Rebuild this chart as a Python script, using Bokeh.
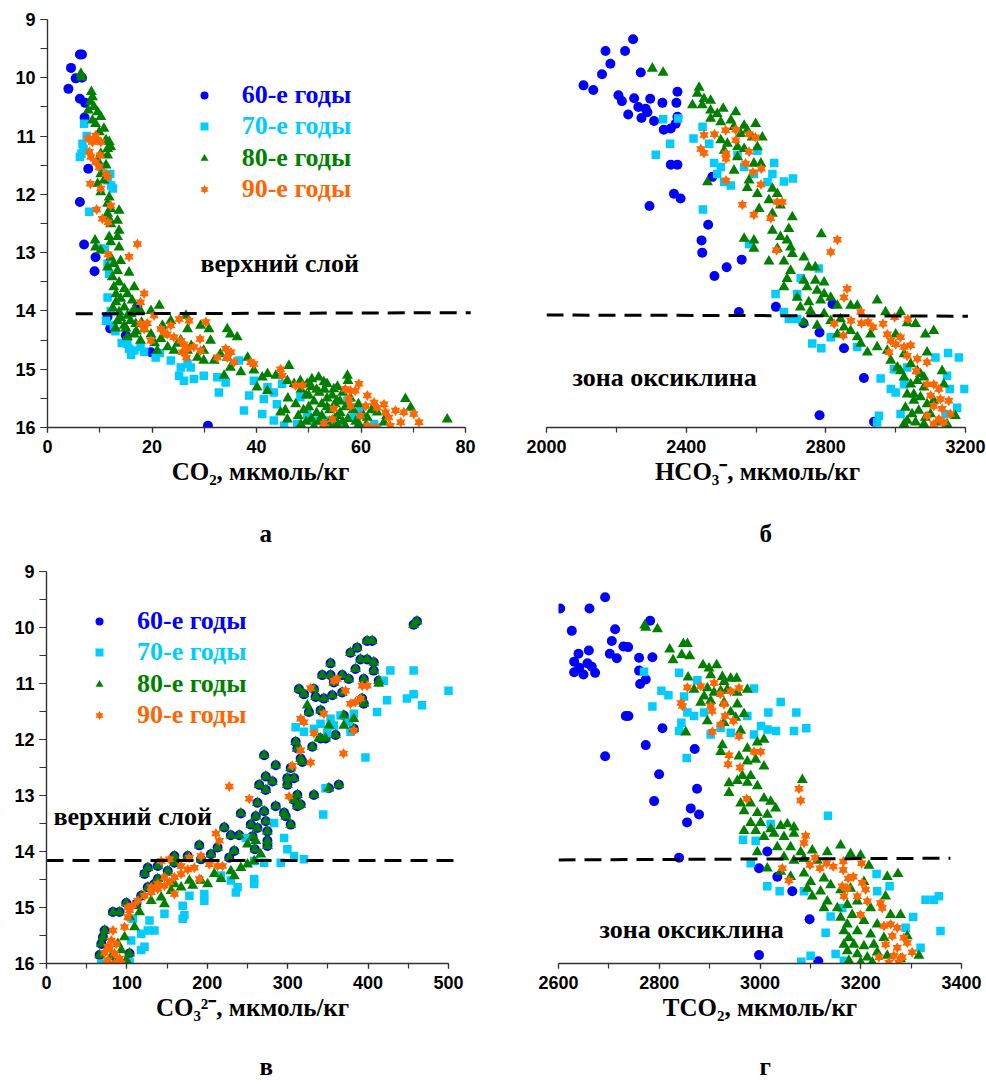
from bokeh.plotting import figure
from bokeh.models import Range1d, SingleIntervalTicker, Label, Legend, LegendItem, Title
from bokeh.layouts import row, column
from bokeh.embed import file_html
from bokeh.resources import INLINE

# ---------------- data ----------------
SERIES = ["60-е годы", "70-е годы", "80-е годы", "90-е годы"]
COLORS = ["#0000FF", "#00CCFF", "#008000", "#FF6600"]
X_TITLES = ["CO₂, мкмоль/кг", "HCO₃⁻, мкмоль/кг", "CO₃²⁻, мкмоль/кг", "TCO₂, мкмоль/кг"]
PANEL_LETTERS = ["а", "б", "в", "г"]
ZONE_TEXTS = ["верхний слой", "зона оксиклина"]

# panel а: CO2
co2_60s = [(6.2, 9.60), (6.6, 9.60), (4.5, 9.83), (5.4, 10.01), (6.6, 10.00), (4.0, 10.19), (6.2, 10.36),
           (7.2, 10.43), (7.1, 10.68), (7.8, 11.56), (6.2, 12.13), (7.0, 12.86), (9.2, 13.08), (9.0, 13.32),
           (17.2, 13.93), (11.5, 14.10), (12.0, 14.30), (15.0, 14.42), (15.0, 14.55), (19.8, 14.71), (30.7, 15.97)]
co2_70s = [(7.0, 10.79), (6.7, 11.13), (6.9, 11.22), (6.2, 11.36), (6.5, 11.30), (7.5, 11.00), (10.2, 11.53),
           (11.5, 11.76), (12.2, 11.85), (12.0, 11.65), (12.5, 11.90), (8.0, 12.30), (10.2, 12.93), (11.0, 12.95),
           (11.5, 13.19), (11.8, 13.36), (11.5, 13.77), (12.1, 14.00), (11.2, 14.17), (12.7, 14.25), (15.3, 14.51),
           (15.6, 14.65), (16.6, 14.68), (17.8, 14.62), (20.7, 14.80), (23.6, 14.85), (25.5, 14.97), (26.8, 14.91),
           (27.4, 14.97), (25.2, 15.11), (26.1, 15.20), (28.0, 15.17), (29.9, 15.11), (32.5, 15.14), (34.1, 15.23),
           (32.8, 15.40), (36.6, 14.85), (38.6, 15.45), (37.6, 15.71), (41.1, 15.77), (41.4, 15.51), (43.3, 15.40),
           (43.9, 15.60), (43.3, 15.88), (45.3, 15.97), (47.8, 15.94), (49.7, 15.77), (48.4, 15.48), (51.0, 15.88),
           (52.9, 15.88), (54.8, 15.94), (58.6, 15.83), (59.9, 15.71), (62.5, 15.94), (63.1, 16.0), (44.9, 15.25),
           (42.1, 15.31), (39.5, 15.20), (57.4, 15.54), (13.0, 14.35), (14.2, 14.55), (16.0, 14.75), (18.5, 14.70),
           (21.5, 14.72)]
co2_80s = [(6.4, 9.93), (6.5, 9.99), (8.4, 10.24), (8.6, 10.33), (8.2, 10.41), (8.9, 10.50), (7.8, 10.56),
           (9.6, 10.59), (10.2, 10.67), (8.6, 10.73), (9.2, 10.79), (10.8, 10.87), (9.9, 10.93), (11.2, 11.07),
           (11.8, 11.10), (12.1, 11.19), (11.5, 11.22), (10.2, 11.30), (11.5, 11.33), (9.6, 11.42), (11.2, 11.50),
           (10.2, 11.65), (10.8, 11.76), (9.6, 11.82), (10.2, 11.96), (11.8, 12.05), (11.5, 12.16), (12.1, 12.25),
           (13.7, 12.28), (11.5, 12.33), (11.8, 12.42), (13.4, 12.45), (12.1, 12.51), (13.7, 12.62), (11.8, 12.73),
           (13.4, 12.73), (9.1, 12.79), (12.1, 12.82), (13.7, 12.91), (9.2, 12.91), (10.2, 12.96), (12.1, 13.08),
           (12.7, 13.19), (14.0, 13.14), (11.5, 13.25), (13.4, 13.31), (15.6, 13.34), (12.4, 13.42), (13.7, 13.51),
           (12.7, 13.59), (14.7, 13.62), (16.6, 13.59), (13.1, 13.71), (15.3, 13.71), (14.0, 13.79), (16.2, 13.82),
           (13.1, 13.85), (21.4, 13.91), (14.7, 13.94), (16.6, 13.97), (13.7, 14.02), (15.3, 14.08), (17.8, 14.00),
           (19.8, 14.00), (26.5, 14.08), (23.6, 14.17), (15.9, 14.17), (13.4, 14.17), (16.9, 14.22), (14.7, 14.25),
           (18.5, 14.31), (26.8, 14.31), (29.3, 14.25), (30.9, 14.31), (34.4, 14.31), (35.0, 14.40), (36.3, 14.45),
           (31.2, 14.51), (16.6, 14.40), (19.8, 14.40), (21.7, 14.48), (15.3, 14.45), (17.8, 14.51), (23.0, 14.62),
           (24.9, 14.56), (21.0, 14.68), (26.8, 14.68), (29.9, 14.68), (33.1, 14.74), (28.7, 14.80), (24.2, 14.68),
           (29.9, 14.85), (31.9, 14.85), (34.4, 14.80), (35.0, 14.97), (38.3, 14.80), (37.0, 15.05), (39.5, 15.02),
           (41.1, 15.14), (42.1, 15.08), (43.7, 15.11), (46.2, 14.94), (33.8, 15.11), (40.1, 15.31), (42.1, 15.37),
           (45.9, 15.20), (47.2, 15.25), (48.4, 15.20), (49.7, 15.25), (50.6, 15.17), (51.9, 15.14), (57.4, 15.11),
           (52.9, 15.22), (68.5, 15.51), (69.5, 15.66), (76.5, 15.86), (64.4, 15.91), (63.1, 15.74), (61.2, 15.83),
           (59.6, 15.94), (64.9, 15.80), (44.6, 15.74), (45.9, 15.86), (54.8, 15.34), (55.4, 15.54),
           (48.5, 15.35), (49.5, 15.45), (50.5, 15.30), (51.0, 15.55), (52.0, 15.40), (52.5, 15.60), (53.0, 15.35),
           (53.5, 15.50), (54.0, 15.70), (54.5, 15.45), (55.0, 15.60), (55.5, 15.80), (56.0, 15.55), (56.5, 15.40),
           (57.0, 15.65), (57.5, 15.85), (58.0, 15.50), (58.5, 15.70), (59.0, 15.90), (59.5, 15.60), (47.5, 15.60),
           (48.0, 15.80), (48.5, 15.95), (49.0, 15.70), (49.5, 15.90), (50.0, 15.65), (50.5, 15.85), (51.0, 15.98),
           (51.5, 15.75), (52.0, 15.90), (52.5, 15.80), (53.0, 15.95), (53.5, 15.65), (54.0, 15.90), (54.5, 15.98),
           (55.0, 15.85), (55.5, 15.95), (56.0, 15.75), (56.5, 15.90), (57.0, 15.98), (50.0, 15.45), (51.5, 15.35),
           (53.5, 15.25), (55.5, 15.30), (57.5, 15.20), (46.0, 15.50), (45.5, 15.70), (60.5, 15.80), (61.0, 15.95),
           (62.0, 15.70), (12.5, 13.95), (14.0, 14.12), (15.0, 14.30), (16.0, 14.05), (13.0, 14.30), (17.0, 14.35),
           (18.0, 14.20), (20.5, 14.55), (22.5, 14.40), (25.5, 14.50), (27.5, 14.60), (22.0, 14.25)]
co2_90s = [(7.8, 11.04), (9.2, 10.99), (9.6, 11.07), (8.6, 11.10), (10.2, 11.10), (8.0, 11.27), (8.3, 11.36),
           (9.2, 11.45), (10.1, 11.33), (9.9, 11.53), (11.2, 11.65), (11.5, 11.70), (8.2, 11.82), (10.2, 11.90),
           (12.1, 12.19), (9.4, 12.26), (10.5, 12.42), (11.6, 12.48), (17.2, 12.85), (11.6, 13.03), (15.6, 13.07),
           (18.5, 13.70), (17.8, 13.85), (20.4, 14.08), (17.8, 14.22), (19.1, 14.21), (18.5, 14.31), (19.8, 14.51),
           (21.7, 14.31), (22.3, 14.37), (23.6, 14.25), (25.2, 14.14), (27.1, 14.17), (30.3, 14.19), (22.9, 14.40),
           (24.2, 14.45), (25.5, 14.51), (26.1, 14.57), (26.8, 14.65), (28.0, 14.62), (29.3, 14.68), (29.2, 14.48),
           (25.8, 14.71), (26.6, 14.80), (32.5, 14.80), (34.1, 14.65), (35.1, 14.71), (34.4, 14.80), (35.7, 14.88),
           (38.9, 14.88), (39.5, 14.91), (44.6, 15.00), (44.9, 15.11), (47.5, 15.28), (48.8, 15.28), (57.0, 15.34),
           (58.0, 15.37), (58.9, 15.37), (57.7, 15.51), (58.0, 15.63), (61.2, 15.45), (60.9, 15.63), (62.5, 15.57),
           (63.1, 15.66), (64.4, 15.60), (64.7, 15.74), (66.6, 15.71), (65.3, 15.83), (67.6, 15.91), (68.2, 15.74),
           (70.1, 15.77), (71.1, 15.91), (65.6, 15.97), (62.8, 16.0), (61.2, 15.97), (59.9, 15.80), (54.8, 15.68),
           (54.5, 15.86), (52.9, 15.93), (59.6, 15.25)]

# panel б: HCO3-
hco3_60s = [(2248, 9.34), (2169, 9.54), (2225, 9.54), (2183, 9.76), (2159, 9.94), (2270, 9.91), (2106, 10.13),
            (2134, 10.21), (2206, 10.30), (2216, 10.40), (2251, 10.35), (2297, 10.36), (2332, 10.43), (2375, 10.24),
            (2372, 10.43), (2263, 10.50), (2284, 10.53), (2289, 10.59), (2234, 10.63), (2272, 10.69), (2308, 10.74),
            (2336, 10.89), (2356, 10.87), (2370, 10.79), (2375, 10.67), (2356, 11.49), (2375, 11.49), (2475, 11.70),
            (2365, 11.99), (2384, 12.07), (2295, 12.20), (2463, 12.52), (2444, 12.79), (2446, 13.00), (2559, 13.12),
            (2516, 13.25), (2481, 13.40), (2551, 14.02), (2657, 13.93), (2819, 13.88), (2736, 14.21), (2782, 14.37),
            (2852, 14.64), (2909, 15.15), (2782, 15.79), (2938, 15.90)]
hco3_70s = [(2334, 10.71), (2377, 10.70), (2447, 10.84), (2421, 11.04), (2354, 11.13), (2313, 11.32), (2466, 11.13),
            (2480, 11.46), (2499, 11.53), (2489, 11.65), (2528, 11.85), (2509, 11.79), (2566, 11.53), (2594, 11.65),
            (2604, 11.25), (2652, 11.46), (2647, 11.65), (2633, 11.79), (2680, 11.78), (2706, 11.73), (2547, 11.33),
            (2448, 12.26), (2580, 12.85), (2780, 13.27), (2728, 13.44), (2656, 13.71), (2718, 13.71), (2680, 14.02),
            (2694, 14.14), (2718, 14.14), (2761, 14.56), (2787, 14.64), (2814, 14.45), (2890, 14.62), (2957, 15.16),
            (2995, 15.00), (2986, 15.34), (3000, 15.40), (3014, 15.77), (2952, 15.80), (2947, 15.91), (3114, 14.80),
            (3150, 14.72), (3181, 14.80), (3147, 15.11), (3155, 15.34), (3197, 15.34), (3176, 15.66), (3143, 15.77),
            (3033, 14.97), (3024, 15.26)]
hco3_80s = [(2303, 9.84), (2334, 9.91), (2437, 10.17), (2418, 10.47), (2432, 10.27), (2451, 10.36), (2470, 10.39),
            (2446, 10.47), (2470, 10.56), (2489, 10.62), (2506, 10.53), (2542, 10.59), (2470, 10.70), (2499, 10.76),
            (2528, 10.73), (2537, 10.84), (2566, 10.82), (2599, 10.79), (2575, 10.90), (2556, 10.96), (2589, 11.02),
            (2618, 11.02), (2499, 11.07), (2518, 11.13), (2547, 11.19), (2566, 11.22), (2604, 11.19), (2509, 11.25),
            (2547, 11.36), (2594, 11.47), (2614, 11.47), (2537, 11.59), (2461, 11.79), (2580, 11.76), (2575, 11.89),
            (2604, 11.99), (2647, 11.90), (2661, 11.99), (2637, 12.10), (2670, 12.19), (2609, 12.25), (2647, 12.33),
            (2704, 12.39), (2647, 12.62), (2670, 12.73), (2694, 12.59), (2689, 12.79), (2566, 12.76), (2594, 12.79),
            (2594, 12.93), (2661, 12.93), (2699, 12.91), (2704, 13.02), (2637, 13.15), (2680, 13.15), (2737, 13.08),
            (2751, 13.25), (2770, 13.25), (2699, 13.31), (2689, 13.45), (2737, 13.48), (2770, 13.48), (2795, 13.51),
            (2680, 13.59), (2746, 13.59), (2775, 13.65), (2795, 13.71), (2718, 13.77), (2785, 13.82), (2814, 13.77),
            (2751, 13.85), (2833, 13.91), (2727, 13.94), (2756, 14.00), (2787, 12.68), (2871, 13.91), (2890, 13.91),
            (2947, 13.82), (2971, 14.02), (3014, 14.02), (3033, 14.21), (3057, 14.22), (3085, 14.40), (3109, 14.34),
            (2737, 14.20), (2775, 14.25), (2814, 14.17), (2795, 14.05), (2842, 14.14), (2852, 14.28), (2833, 14.40),
            (2871, 14.34), (2890, 14.45), (2900, 14.56), (2928, 14.40), (2947, 14.62), (2919, 14.71), (2976, 14.68),
            (3000, 14.40), (2986, 14.85), (3024, 14.74), (3005, 14.97), (3043, 14.91), (3062, 15.03), (3090, 14.71),
            (3081, 15.14), (3133, 15.03), (3138, 15.26), (3024, 15.14), (3043, 15.26), (3062, 15.20), (3081, 15.31),
            (3033, 15.43), (3052, 15.54), (3071, 15.48), (3090, 15.60), (3028, 15.66), (3047, 15.77), (3066, 15.71),
            (3085, 15.83), (3033, 15.88), (3057, 15.91), (3081, 15.94), (3100, 15.77), (3109, 15.54), (3024, 15.94),
            (3171, 15.80), (3147, 15.94), (3119, 15.91), (3052, 15.43), (3071, 15.08), (3014, 15.03)]
hco3_90s = [(2451, 10.98), (2481, 10.97), (2513, 10.90), (2542, 10.89), (2580, 10.97), (2598, 11.02), (2442, 11.22),
            (2451, 11.29), (2514, 11.30), (2542, 11.07), (2514, 11.39), (2580, 11.27), (2570, 11.47), (2591, 11.62),
            (2615, 11.56), (2514, 11.76), (2614, 11.83), (2661, 12.13), (2675, 12.13), (2561, 12.18), (2594, 12.35),
            (2642, 12.41), (2833, 12.78), (2814, 12.99), (2659, 12.96), (2861, 13.62), (2852, 13.77), (2900, 14.02),
            (2824, 14.22), (2850, 14.42), (2872, 14.17), (2902, 14.21), (2921, 14.19), (2935, 14.28), (2964, 14.22),
            (2997, 14.11), (3035, 14.14), (2976, 14.40), (2986, 14.51), (3014, 14.45), (2981, 14.71), (3000, 14.57),
            (3024, 14.62), (3043, 14.59), (3033, 14.77), (3062, 14.82), (3090, 14.88), (3059, 15.03), (3090, 15.26),
            (3109, 15.26), (3124, 15.34), (3100, 15.45), (3128, 15.51), (3152, 15.54), (3109, 15.63), (3133, 15.68),
            (3157, 15.77), (3090, 15.80), (3124, 15.86), (3138, 15.91), (3109, 15.94)]

# panel в: CO3 2-
co3_60s = [(460.7, 9.89), (456.6, 9.95), (405.0, 10.24), (398.8, 10.24), (386.4, 10.36), (378.1, 10.45),
           (353.3, 10.64), (390.5, 10.57), (398.8, 10.57), (407.0, 10.62), (342.9, 10.85), (353.3, 10.85),
           (367.8, 10.85), (384.3, 10.74), (407.0, 10.77), (413.2, 10.95), (394.6, 10.92), (376.0, 10.92),
           (357.4, 10.98), (314.0, 11.10), (320.2, 11.19), (332.6, 11.10), (334.7, 11.24), (345.0, 11.27),
           (355.4, 11.21), (367.8, 11.16), (392.6, 11.27), (394.6, 11.36), (326.4, 11.51), (340.9, 11.48),
           (369.8, 11.57), (382.2, 11.81), (340.9, 11.98), (347.1, 11.98), (359.5, 11.92), (309.9, 12.04),
           (312.0, 12.16), (330.6, 12.13), (270.7, 12.28), (316.1, 12.34), (318.2, 12.40), (285.1, 12.46),
           (303.7, 12.51), (299.6, 12.69), (307.9, 12.69), (272.7, 12.66), (264.5, 12.81), (281.0, 12.75),
           (272.7, 12.90), (299.6, 12.81), (312.0, 12.99), (307.9, 13.08), (332.6, 12.99), (363.6, 12.81),
           (351.2, 12.87), (316.1, 13.16), (285.1, 13.19), (262.4, 13.13), (312.0, 13.19), (295.5, 13.31),
           (297.5, 13.37), (303.7, 13.52), (270.7, 13.28), (241.7, 13.32), (260.3, 13.37), (272.7, 13.46),
           (262.4, 13.58), (254.1, 13.52), (221.1, 13.57), (274.8, 13.64), (256.2, 13.73), (274.8, 13.81),
           (229.3, 13.71), (239.7, 13.71), (274.8, 13.90), (190.0, 13.89), (212.8, 13.93), (233.5, 13.99),
           (259.1, 13.96), (159.1, 14.08), (175.6, 14.08), (204.5, 14.05), (227.3, 14.11), (126.0, 14.29),
           (138.4, 14.26), (159.1, 14.20), (192.1, 14.14), (121.9, 14.40), (138.4, 14.49), (150.8, 14.35),
           (126.0, 14.64), (134.3, 14.58), (117.8, 14.79), (111.6, 14.94), (99.2, 14.92), (82.6, 15.08),
           (90.9, 15.08), (72.3, 15.41), (70.2, 15.53), (68.2, 15.65), (66.1, 15.85), (86.8, 16.0), (103.3, 15.82)]
co3_80s_only = [(115.7, 15.08), (109.5, 15.35), (103.3, 15.17), (97.1, 15.53), (93.0, 15.76), (99.2, 15.94),
                (88.8, 15.65), (80.6, 15.88), (130.2, 14.88), (142.6, 14.82), (155.0, 14.70), (167.4, 14.64),
                (181.8, 14.61), (192.1, 14.52), (200.4, 14.58), (177.7, 14.52), (208.7, 14.40), (217.0, 14.49),
                (229.3, 14.35), (241.7, 14.29), (250.0, 14.23), (258.3, 14.17), (266.5, 14.05), (233.5, 14.44),
                (250.0, 13.87), (260.3, 13.81), (159.1, 14.58), (146.7, 14.94), (338.8, 11.98), (351.2, 11.75),
                (369.8, 11.75), (382.2, 11.63), (324.4, 11.39), (413.2, 11.00)]
co3_80s = co3_60s + co3_80s_only
co3_70s = [(427.7, 10.77), (456.6, 10.77), (500.0, 11.13), (448.3, 11.27), (456.6, 11.19), (467.0, 11.39),
           (423.6, 11.30), (411.2, 11.51), (419.4, 10.95), (382.2, 11.54), (378.1, 11.86), (396.7, 12.32),
           (309.9, 11.78), (320.2, 11.86), (332.6, 11.81), (340.9, 11.72), (353.3, 11.63), (357.4, 11.75),
           (365.7, 11.57), (349.2, 11.89), (376.0, 11.69), (347.1, 12.87), (344.2, 13.34), (283.1, 13.49),
           (295.5, 13.76), (299.6, 13.96), (307.9, 14.08), (320.2, 14.14), (291.3, 14.20), (270.7, 14.20),
           (258.3, 14.17), (247.9, 13.76), (258.3, 14.49), (258.3, 14.58), (237.6, 14.64), (235.5, 14.73),
           (229.3, 14.52), (216.9, 14.43), (196.3, 14.76), (196.3, 14.88), (177.7, 14.79), (169.4, 14.97),
           (171.5, 15.14), (169.4, 15.20), (146.7, 15.11), (134.3, 15.41), (126.0, 15.41), (128.1, 15.23),
           (121.9, 15.70), (117.8, 15.76), (117.8, 15.47), (105.4, 15.59), (103.3, 15.97), (68.2, 16.0),
           (107.4, 15.20)]
co3_90s = [(382.2, 11.84), (361.6, 10.92), (357.4, 10.95), (371.9, 11.13), (392.6, 11.04), (398.8, 11.04),
           (378.1, 11.36), (384.3, 11.33), (390.5, 11.27), (328.5, 11.08), (316.1, 11.63), (320.2, 11.69),
           (332.6, 11.89), (345.0, 11.54), (316.1, 12.19), (328.5, 12.41), (305.8, 12.47), (369.4, 12.25),
           (227.3, 12.84), (252.1, 13.06), (301.7, 13.02), (210.7, 13.68), (215.0, 13.81), (192.1, 14.08),
           (177.7, 14.11), (142.6, 14.17), (152.9, 14.14), (167.4, 14.26), (175.6, 14.32), (183.9, 14.29),
           (202.5, 14.23), (212.8, 14.26), (219.0, 14.26), (167.4, 14.40), (159.1, 14.46), (152.9, 14.55),
           (146.7, 14.61), (138.4, 14.67), (130.2, 14.73), (121.9, 14.79), (113.6, 14.88), (107.4, 14.97),
           (101.2, 15.00), (103.3, 15.05), (146.7, 14.46), (190.1, 14.49), (159.1, 14.76), (138.4, 14.58),
           (130.2, 14.64), (97.1, 15.35), (101.2, 15.17), (82.6, 15.41), (80.6, 15.59), (76.4, 15.70),
           (72.3, 15.81), (76.4, 15.94), (84.7, 15.82), (90.9, 15.91), (84.7, 16.0), (74.4, 16.0), (78.5, 15.73),
           (86.8, 15.65), (93.0, 16.0)]

# panel г: TCO2
tco2_60s = [(2692.6, 9.46), (2603.3, 9.66), (2661.5, 9.66), (2626.4, 10.06), (2712.4, 10.03), (2781.8, 9.88),
            (2705.8, 10.24), (2728.9, 10.34), (2738.2, 10.35), (2660.2, 10.41), (2639.7, 10.47), (2701.8, 10.47),
            (2715.7, 10.55), (2760.0, 10.54), (2786.4, 10.53), (2631.1, 10.61), (2657.5, 10.64), (2666.1, 10.70),
            (2641.0, 10.72), (2631.1, 10.80), (2649.6, 10.84), (2672.7, 10.81), (2760.0, 10.77), (2773.2, 10.93),
            (2762.0, 11.01), (2733.6, 11.58), (2738.8, 11.58), (2806.3, 11.80), (2773.2, 12.10), (2870.4, 12.17),
            (2692.6, 12.30), (2799.7, 12.62), (2875.0, 12.88), (2789.8, 13.10), (2862.5, 13.23), (2879.0, 13.34),
            (2855.2, 13.48), (2839.3, 14.11), (3014.5, 14.00), (2998.0, 14.30), (3034.4, 14.45), (3064.1, 14.71),
            (3098.5, 15.21), (2998.0, 15.85), (3115.7, 15.96)]
tco2_70s = [(2769.9, 10.79), (2839.3, 10.81), (2875.7, 10.94), (2804.3, 11.13), (2818.2, 11.21), (2786.4, 11.41),
            (2849.3, 11.23), (2855.9, 11.52), (2869.1, 11.58), (2889.0, 11.52), (2843.9, 11.70), (2839.3, 11.85),
            (2902.1, 11.91), (2921.9, 11.79), (2941.8, 11.88), (2974.9, 11.58), (2988.1, 11.09), (3016.5, 11.52),
            (3041.0, 11.33), (3072.1, 11.52), (3067.4, 11.85), (3091.9, 11.80), (3002.0, 11.76), (3015.2, 11.82),
            (3031.7, 11.85), (2988.1, 11.91), (2854.5, 12.33), (3134.9, 13.36), (2966.3, 13.79), (2991.4, 13.81),
            (3021.2, 13.51), (2981.5, 14.21), (3014.5, 14.62), (3039.0, 14.71), (3087.3, 14.71), (3231.4, 14.40),
            (3257.2, 14.62), (3232.7, 14.71), (3328.6, 14.86), (3345.1, 14.86), (3355.0, 14.80), (3304.1, 15.17),
            (3358.3, 15.42), (3318.7, 15.72), (3140.2, 15.16), (3130.3, 15.45), (3150.1, 15.83), (3082.0, 15.97),
            (3100.5, 15.86), (3166.6, 15.95), (3289.0, 15.36), (3163.3, 15.01)]
tco2_80s = [(2771.2, 9.96), (2773.2, 10.00), (2796.4, 10.03), (2847.9, 10.29), (2855.9, 10.29), (2820.8, 10.39),
            (2827.4, 10.58), (2844.6, 10.49), (2860.5, 10.51), (2857.2, 10.89), (2886.9, 10.67), (2898.8, 10.73),
            (2914.0, 10.67), (2902.1, 10.85), (2925.3, 10.88), (2928.6, 10.97), (2941.8, 10.91), (2953.7, 10.91),
            (2869.1, 11.11), (2889.0, 11.23), (2895.5, 11.08), (2908.8, 11.16), (2921.9, 11.13), (2935.2, 11.11),
            (2955.0, 11.16), (2974.9, 11.11), (2882.3, 11.34), (2902.1, 11.31), (2928.6, 11.34), (2955.0, 11.37),
            (2941.8, 11.51), (2968.3, 11.54), (2895.5, 11.67), (2852.6, 11.87), (2928.6, 11.70), (2951.7, 11.61),
            (2961.6, 11.84), (2994.7, 12.05), (3007.9, 12.00), (2925.3, 12.10), (2922.0, 12.22), (2974.9, 12.16),
            (2958.3, 12.30), (2991.4, 12.36), (3007.9, 12.48), (2974.9, 12.39), (2965.0, 12.65), (2981.5, 12.65),
            (2955.0, 12.74), (2938.5, 12.78), (2974.9, 12.77), (2994.7, 12.83), (2938.5, 12.95), (2961.6, 13.14),
            (2981.5, 13.14), (3007.9, 13.05), (3021.2, 13.11), (3031.1, 13.23), (2968.3, 13.28), (2994.7, 13.31),
            (3014.5, 13.34), (2981.5, 13.49), (3001.3, 13.49), (2968.3, 13.63), (2991.4, 13.63), (3021.2, 13.60),
            (3041.0, 13.54), (3054.2, 13.51), (3067.4, 13.57), (3027.8, 13.68), (3047.6, 13.74), (3067.4, 13.68),
            (3007.9, 13.74), (3034.4, 13.92), (3060.8, 13.92), (3084.0, 12.72), (2994.7, 14.01), (3080.7, 14.01),
            (3103.8, 13.98), (3160.0, 13.89), (3047.6, 14.10), (3067.4, 14.16), (3087.3, 14.13), (3113.7, 14.16),
            (3133.6, 14.01), (3179.8, 14.04), (3199.7, 14.07), (3216.2, 14.25), (3252.6, 14.45), (3273.8, 14.40),
            (3014.5, 14.30), (3041.0, 14.36), (3060.8, 14.45), (3087.3, 14.39), (3100.5, 14.54), (3126.9, 14.48),
            (3140.2, 14.60), (3093.9, 14.66), (3120.3, 14.71), (3160.0, 14.69), (3179.8, 14.66), (3206.3, 14.54),
            (3103.8, 14.80), (3133.6, 14.89), (3153.5, 15.01), (3173.3, 14.95), (3193.1, 14.89), (3219.6, 15.01),
            (3249.3, 14.80), (3126.9, 15.01), (3160.0, 15.18), (3183.1, 15.13), (3206.3, 15.24), (3232.7, 15.30),
            (3259.2, 15.13), (3279.0, 15.13), (3292.2, 15.51), (3173.3, 15.30), (3193.1, 15.42), (3219.6, 15.48),
            (3246.0, 15.54), (3176.5, 15.54), (3186.4, 15.66), (3206.3, 15.69), (3226.1, 15.66), (3173.3, 15.78),
            (3193.1, 15.83), (3213.0, 15.89), (3232.7, 15.80), (3252.6, 15.86), (3176.5, 15.95), (3199.7, 15.98),
            (3222.9, 15.98), (3315.4, 15.86), (3279.0, 15.92), (3166.6, 15.66), (3166.6, 15.42)]
tco2_90s = [(2855.9, 11.07), (2882.3, 11.05), (2908.8, 10.99), (2941.8, 11.14), (2958.3, 11.08), (2921.3, 11.19),
            (2843.3, 11.35), (2846.0, 11.40), (2902.1, 11.40), (2928.6, 11.37), (2904.8, 11.49), (2930.6, 11.58),
            (2947.1, 11.67), (2922.0, 11.73), (2905.5, 11.86), (2958.3, 11.94), (2938.5, 12.28), (2936.5, 12.44),
            (2960.3, 12.50), (2988.1, 12.22), (3001.3, 12.22), (2973.6, 13.06), (3077.4, 12.88), (3080.7, 13.09),
            (3090.6, 13.72), (3087.3, 13.85), (3044.3, 14.30), (3057.5, 14.52), (3109.1, 14.11), (3099.2, 14.24),
            (3119.0, 14.30), (3132.3, 14.21), (3145.5, 14.27), (3165.3, 14.18), (3175.2, 14.48), (3185.1, 14.45),
            (3201.7, 14.21), (3165.3, 14.33), (3163.3, 14.62), (3173.3, 14.65), (3166.6, 14.80), (3203.0, 14.56),
            (3209.6, 14.68), (3193.1, 14.80), (3213.0, 14.89), (3239.3, 14.92), (3242.6, 15.01), (3199.7, 15.13),
            (3246.0, 15.33), (3259.2, 15.30), (3272.4, 15.36), (3262.5, 15.51), (3285.6, 15.54), (3249.3, 15.66),
            (3272.4, 15.72), (3292.2, 15.63), (3265.8, 15.86), (3282.3, 15.89), (3302.1, 15.80), (3236.0, 15.89),
            (3255.9, 15.98), (3275.7, 15.98)]

# boundary between upper layer and oxycline (dashed lines)
boundary_a = ([5.4, 81.0], [14.05, 14.03])
boundary_b = ([2000, 3207], [14.07, 14.09])
boundary_c = ([0, 512], [14.16, 14.16])
boundary_d = ([2600, 3378], [14.15, 14.12])

# ---------------- style helpers ----------------
SERIF = "Liberation Serif"
SANS = "Liberation Sans"
AX = "#333333"


class Frame:
    def __init__(self, left, top, xpx, ypx, x0):
        self.left, self.top, self.xpx, self.ypx, self.x0 = left, top, xpx, ypx, x0

    def x(self, px):
        return self.x0 + (px - self.left) / self.xpx

    def y(self, py):
        return 9 + (py - self.top) / self.ypx


def make_fig(width, height, bl, bt, fw, fh, x0, xpx, yaxis, interval, bounds, xtitle, letter, letter_off,
             letter_standoff):
    br = width - bl - fw
    bb = height - bt - fh
    p = figure(width=width, height=height, x_range=Range1d(x0, x0 + fw / xpx), y_range=Range1d(16, 9),
               output_backend="svg", toolbar_location=None,
               min_border_left=bl, min_border_right=br, min_border_top=bt, min_border_bottom=bb,
               y_axis_location="left" if yaxis else None)
    p.outline_line_color = None
    p.grid.visible = False
    p.background_fill_color = "white"
    p.border_fill_color = "white"
    p.xaxis.ticker = SingleIntervalTicker(interval=interval, num_minor_ticks=2)
    p.xaxis.bounds = bounds
    p.xaxis.axis_label = xtitle
    if yaxis:
        p.yaxis.ticker = SingleIntervalTicker(interval=1, num_minor_ticks=2)
        p.yaxis.bounds = (9, 16)
    for ax in p.axis:
        ax.axis_line_color = AX
        ax.axis_line_width = 1.4
        ax.major_tick_line_color = AX
        ax.minor_tick_line_color = AX
        ax.major_tick_line_width = 1.2
        ax.minor_tick_line_width = 1.2
        ax.major_tick_in = 0
        ax.minor_tick_in = 0
        ax.major_label_text_font = SANS
        ax.major_label_text_font_style = "bold"
        ax.major_label_text_font_size = "18px"
        ax.major_label_text_color = "black"
    for ax in p.xaxis:
        ax.major_tick_out = 5
        ax.minor_tick_out = 5
        ax.major_label_standoff = 7
        ax.axis_label_standoff = 2
        ax.axis_label_text_font = SERIF
        ax.axis_label_text_font_style = "bold"
        ax.axis_label_text_font_size = "25px"
        ax.axis_label_text_color = "black"
    for ax in p.yaxis:
        ax.major_tick_out = 7
        ax.minor_tick_out = 7
        ax.major_label_standoff = 5
    # panel letter: a blank first line pushes the letter further below the axis title
    p.add_layout(Title(text="\n" + letter, align="left", offset=letter_off, standoff=letter_standoff,
                       vertical_align="bottom", text_font=SERIF, text_font_style="bold",
                       text_font_size="25px", text_color="black"), "below")
    return p


def xs(pts):
    return [q[0] for q in pts]


def ys(pts):
    return [q[1] for q in pts]


def draw_series(p, s60, s70, s80, s90):
    r60 = p.scatter(xs(s60), ys(s60), marker="circle", size=10, fill_color=COLORS[0], line_color=None)
    r70 = p.scatter(xs(s70), ys(s70), marker="square", size=8.5, fill_color=COLORS[1], line_color=None)
    r80 = p.scatter(xs(s80), ys(s80), marker="triangle", size=11, fill_color=COLORS[2], line_color=None)
    r90a = p.scatter(xs(s90), ys(s90), marker="triangle", size=9.5, fill_color=COLORS[3], line_color=None)
    r90b = p.scatter(xs(s90), ys(s90), marker="inverted_triangle", size=9.5, fill_color=COLORS[3], line_color=None)
    return [[r60], [r70], [r80], [r90a, r90b]]


def add_legends(p, rends, box_left, centers, frame_left, frame_bottom, standoff):
    for i in range(4):
        lg = Legend(items=[LegendItem(label=SERIES[i], renderers=rends[i])],
                    location=(box_left - frame_left, frame_bottom - (centers[i] + 15)),
                    border_line_color=None, background_fill_alpha=0, padding=0, margin=0, spacing=0,
                    glyph_width=20, glyph_height=20, label_standoff=standoff, label_height=20,
                    label_text_font=SERIF, label_text_font_style="bold", label_text_font_size="26px",
                    label_text_color=COLORS[i])
        p.add_layout(lg)


def text(p, x, y, t, size="26px", align="left"):
    p.add_layout(Label(x=x, y=y, text=t, text_font=SERIF, text_font_style="bold", text_font_size=size,
                       text_align=align, text_baseline="middle", text_color="black"))


def dashed(p, line):
    p.line(line[0], line[1], line_color="black", line_width=3, line_dash="17 9")


# ---------------- panel а ----------------
FA = Frame(47, 19, 5.225, 408 / 7, 0)
pa = make_fig(500, 556, 47, 19, 426, 408, 0, 5.225, True, 20, (0, 80), X_TITLES[0], PANEL_LETTERS[0], 212, 6)
ra = draw_series(pa, co2_60s, co2_70s, co2_80s, co2_90s)
dashed(pa, boundary_a)
add_legends(pa, ra, 193.7, [95, 126, 158, 189], 47, 427, 28)
text(pa, FA.x(200), FA.y(263), ZONE_TEXTS[0])

# ---------------- panel б ----------------
FB = Frame(546, 19, 419 / 1200, 408 / 7, 2000)
pb = make_fig(486, 556, 46, 19, 422, 408, 2000, 419 / 1200, False, 400, (2000, 3200), X_TITLES[1],
              PANEL_LETTERS[1], 213, 6)
draw_series(pb, hco3_60s, hco3_70s, hco3_80s, hco3_90s)
dashed(pb, boundary_b)
text(pb, FB.x(572), FB.y(377), ZONE_TEXTS[1])

# ---------------- panel в ----------------
FC = Frame(46, 568, 0.804, 395 / 7, 0)
pc = make_fig(500, 530, 46, 12, 412, 395, 0, 0.804, True, 100, (0, 500), X_TITLES[2], PANEL_LETTERS[2], 213, 0)
rc = draw_series(pc, co3_60s, co3_70s, co3_80s, co3_90s)
dashed(pc, boundary_c)
add_legends(pc, rc, 89, [621, 652, 684, 715], 46, 963, 28)
text(pc, FC.x(53), FC.y(815), ZONE_TEXTS[0])

# ---------------- panel г ----------------
FD = Frame(558, 571, 0.50375, 395 / 7, 2600)
pd_ = make_fig(486, 530, 58, 15, 403, 395, 2600, 0.50375, False, 200, (2600, 3400), X_TITLES[3],
               PANEL_LETTERS[3], 201, 0)
draw_series(pd_, tco2_60s, tco2_70s, tco2_80s, tco2_90s)
dashed(pd_, boundary_d)
text(pd_, FD.x(599), FD.y(932), ZONE_TEXTS[1])

layout = column(row(pa, pb), row(pc, pd_))
open("out.html", "w").write(file_html(layout, INLINE))
